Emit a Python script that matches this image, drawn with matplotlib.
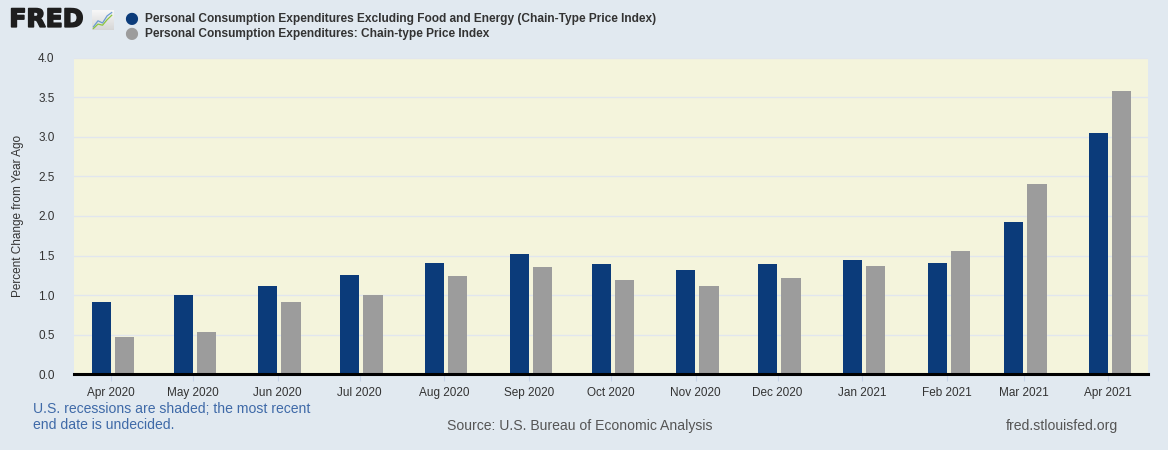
import matplotlib.pyplot as plt
import matplotlib.dates as mdates
import matplotlib.patheffects as pe
import numpy as np
import datetime as dt

months = ['2020-04', '2020-05', '2020-06', '2020-07', '2020-08', '2020-09', '2020-10',
          '2020-11', '2020-12', '2021-01', '2021-02', '2021-03', '2021-04']
tick_labels = ['Apr 2020', 'May 2020', 'Jun 2020', 'Jul 2020', 'Aug 2020', 'Sep 2020', 'Oct 2020',
               'Nov 2020', 'Dec 2020', 'Jan 2021', 'Feb 2021', 'Mar 2021', 'Apr 2021']
core_pce = [0.92, 1.00, 1.12, 1.25, 1.41, 1.52, 1.39, 1.32, 1.40, 1.44, 1.41, 1.93, 3.05]
headline_pce = [0.47, 0.53, 0.91, 1.00, 1.24, 1.35, 1.19, 1.11, 1.22, 1.37, 1.56, 2.41, 3.58]

series_names = ['Personal Consumption Expenditures Excluding Food and Energy (Chain-Type Price Index)',
                'Personal Consumption Expenditures: Chain-type Price Index']

BLUE = '#0b3b7a'
GRAY = '#9c9c9c'
BG = '#e1e9f0'
PLOT_BG = '#f4f4dc'
FONT = ['Liberation Sans', 'DejaVu Sans']

plt.rcParams['font.family'] = FONT

dates = [dt.datetime.strptime(m, '%Y-%m') for m in months]
x = mdates.date2num(dates)

fig = plt.figure(figsize=(11.68, 4.5), dpi=100, facecolor=BG)
ax = fig.add_axes([0.0634, 0.168, 0.9196, 0.704])
ax.set_facecolor(PLOT_BG)

# bars sit either side of the month tick
ax.bar(x - 3.6, core_pce, width=7.0, color=BLUE, zorder=3)
ax.bar(x + 4.9, headline_pce, width=7.0, color=GRAY, zorder=3)

ax.set_xlim(x[0] - 13.5, x[-1] + 14.6)
ax.set_ylim(0, 4.0)
ax.set_yticks(np.arange(0, 4.01, 0.5))
ax.set_yticklabels(['%.1f' % v for v in np.arange(0, 4.01, 0.5)], fontsize=8.5, color='#333333')
ax.set_xticks(x)
ax.set_xticklabels(tick_labels, fontsize=8.5, color='#333333')
ax.tick_params(axis='x', length=5, color='#c8d4e8', pad=4)
ax.tick_params(axis='y', length=0, pad=14)
ax.grid(axis='y', color='#e1e6ee', linewidth=1.0, zorder=0)

for side in ['top', 'right', 'left']:
    ax.spines[side].set_visible(False)
ax.spines['bottom'].set_color('black')
ax.spines['bottom'].set_linewidth(2.2)
ax.spines['bottom'].set_zorder(4)

ax.set_ylabel('Percent Change from Year Ago', fontsize=8.5, color='#333333', labelpad=10)

# FRED logo
fig.text(0.008, 0.956, 'FRED', fontsize=18, fontweight='bold', color='#1e1e1e',
         family=['DejaVu Sans'], va='center',
         path_effects=[pe.withStroke(linewidth=1.2, foreground='#1e1e1e')])
logo = fig.add_axes([0.0788, 0.933, 0.018, 0.044])
grad = np.linspace(0.97, 0.84, 50)
logo.imshow(np.dstack([grad, grad, grad]).reshape(50, 1, 3), aspect='auto',
            extent=[-0.3, 4.3, 0, 3.6])
logo.plot([0, 1, 2, 3, 4], [0.6, 1.7, 1.3, 2.6, 3.2], color='#6b9bd1', lw=0.9)
logo.plot([0, 1, 2, 3, 4], [0.3, 1.1, 0.9, 1.9, 2.7], color='#8cc63f', lw=0.9)
logo.set_xlim(-0.3, 4.3)
logo.set_ylim(0, 3.6)
logo.set_xticks([])
logo.set_yticks([])
for s in logo.spines.values():
    s.set_visible(False)

# legend
for i, (name, col) in enumerate(zip(series_names, [BLUE, GRAY])):
    ypos = 0.958 - i * 0.033
    fig.text(0.112, ypos, '\u25CF', color=col, fontsize=11.5, va='center', ha='center',
             family='DejaVu Sans')
    fig.text(0.124, ypos, name, color='#333333', fontsize=8.6, fontweight='bold', va='center')

# footer
fig.text(0.028, 0.074, 'U.S. recessions are shaded; the most recent\nend date is undecided.',
         fontsize=10.1, color='#3f6aa8', va='center', linespacing=1.2)
fig.text(0.496, 0.053, 'Source: U.S. Bureau of Economic Analysis', fontsize=10.1, color='#555555',
         va='center', ha='center')
fig.text(0.909, 0.053, 'fred.stlouisfed.org', fontsize=10.1, color='#555555',
         va='center', ha='center')

fig.savefig('out.png', dpi=100, facecolor=BG)
